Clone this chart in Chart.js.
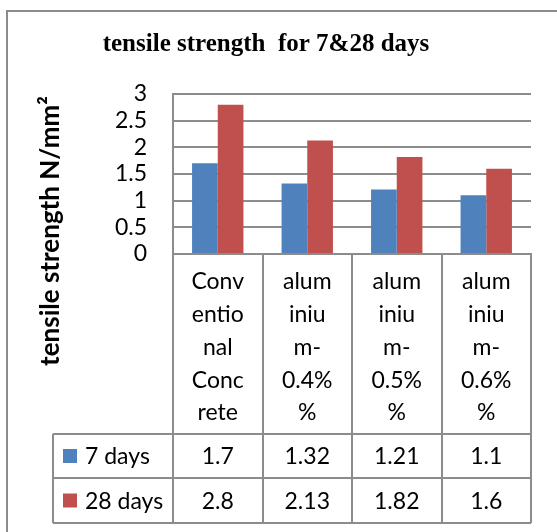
<!DOCTYPE html>
<html>
<head>
<meta charset="utf-8">
<script src="https://cdn.jsdelivr.net/npm/chart.js@4.4.0/dist/chart.umd.min.js"></script>
<style>
  html, body { margin: 0; padding: 0; background: #fff; }
  canvas { display: block; }
</style>
</head>
<body>
<canvas id="chart" width="557" height="532"></canvas>
<script>
const categories = [
    ['Conv', 'entio', 'nal', 'Conc', 'rete'],
    ['alum', 'iniu', 'm-', '0.4%', '%'],
    ['alum', 'iniu', 'm-', '0.5%', '%'],
    ['alum', 'iniu', 'm-', '0.6%', '%']
];
const seriesNames = ['7 days', '28 days'];
const days7 = [1.7, 1.32, 1.21, 1.1];
const days28 = [2.8, 2.13, 1.82, 1.6];
const seriesColors = ['#4F81BD', '#C0504D'];

const chartTitle = 'tensile strength  for 7&28 days';
const yTitle = 'tensile strength N/mm\u00B2';

const GRAY = '#8c8c8c';
const FONT = 'Lato';

// tabela danych pod wykresem, jak w Excelu
const dataTablePlugin = {
    id: 'dataTable',
    beforeDraw(chart) {
        const ctx = chart.ctx;
        ctx.save();
        ctx.strokeStyle = GRAY;
        ctx.lineWidth = 2;
        ctx.strokeRect(7, 11, 700, 700);
        ctx.restore();
    },
    afterDraw(chart) {
        const ctx = chart.ctx;
        const area = chart.chartArea;
        const xScale = chart.scales.x;
        const n = categories.length;
        const catW = (area.right - area.left) / n;
        const rowTop = 434, rowMid = 478, rowBottom = 523, tableLeft = 53;

        ctx.save();
        ctx.strokeStyle = GRAY;
        ctx.lineWidth = 2;
        ctx.beginPath();
        for (let k = 0; k <= n; k++) {
            const x = Math.round(area.left + k * catW);
            ctx.moveTo(x, area.bottom);
            ctx.lineTo(x, rowBottom);
        }
        [rowTop, rowMid, rowBottom].forEach(y => {
            ctx.moveTo(tableLeft, y);
            ctx.lineTo(Math.round(area.right), y);
        });
        ctx.moveTo(tableLeft, rowTop);
        ctx.lineTo(tableLeft, rowBottom);
        ctx.stroke();

        // legenda + wartości
        const rows = [days7, days28];
        const centers = [(rowTop + rowMid) / 2, (rowMid + rowBottom) / 2];
        ctx.font = '23px ' + FONT;
        ctx.textBaseline = 'middle';
        rows.forEach((vals, r) => {
            const cy = centers[r];
            ctx.fillStyle = seriesColors[r];
            ctx.fillRect(63, cy - 7, 14, 14);
            ctx.fillStyle = '#000';
            ctx.textAlign = 'left';
            ctx.fillText(seriesNames[r], 85, cy + 1);
            ctx.textAlign = 'center';
            vals.forEach((v, i) => {
                ctx.fillText(String(v), xScale.getPixelForValue(i), cy + 1);
            });
        });

        // tytuł osi Y
        ctx.translate(59, 231);
        ctx.rotate(-Math.PI / 2);
        ctx.font = 'bold 26px ' + FONT;
        ctx.textAlign = 'center';
        ctx.textBaseline = 'alphabetic';
        ctx.fillText(yTitle, 0, 0);
        ctx.restore();
    }
};

new Chart(document.getElementById('chart'), {
    type: 'bar',
    data: {
        labels: categories,
        datasets: [
            { label: seriesNames[0], data: days7, backgroundColor: seriesColors[0] },
            { label: seriesNames[1], data: days28, backgroundColor: seriesColors[1] }
        ]
    },
    options: {
        responsive: false,
        animation: false,
        categoryPercentage: 0.574,
        barPercentage: 1.0,
        layout: { padding: { left: 1, right: 26, top: 0, bottom: 99 } },
        plugins: {
            legend: { display: false },
            tooltip: { enabled: false },
            title: {
                display: true,
                text: chartTitle,
                color: '#000',
                font: { family: 'Liberation Serif', size: 25, weight: 'bold', lineHeight: 1.2 },
                padding: { top: 30, bottom: 34 }
            }
        },
        scales: {
            x: {
                grid: { display: false },
                border: { display: true, color: GRAY, width: 2 },
                ticks: {
                    color: '#000',
                    font: { family: FONT, size: 23, lineHeight: 1.43 },
                    padding: 3,
                    maxRotation: 0,
                    autoSkip: false
                },
                afterFit(scale) { scale.height = 179; }
            },
            y: {
                min: 0,
                max: 3,
                grid: { color: GRAY, lineWidth: 2, drawTicks: false },
                border: { display: true, color: GRAY, width: 2 },
                ticks: {
                    stepSize: 0.5,
                    autoSkip: false,
                    color: '#000',
                    font: { family: FONT, size: 23 },
                    padding: 26,
                    callback: v => String(v)
                },
                afterFit(scale) { scale.width = 172; }
            }
        }
    },
    plugins: [dataTablePlugin]
});
</script>
</body>
</html>
